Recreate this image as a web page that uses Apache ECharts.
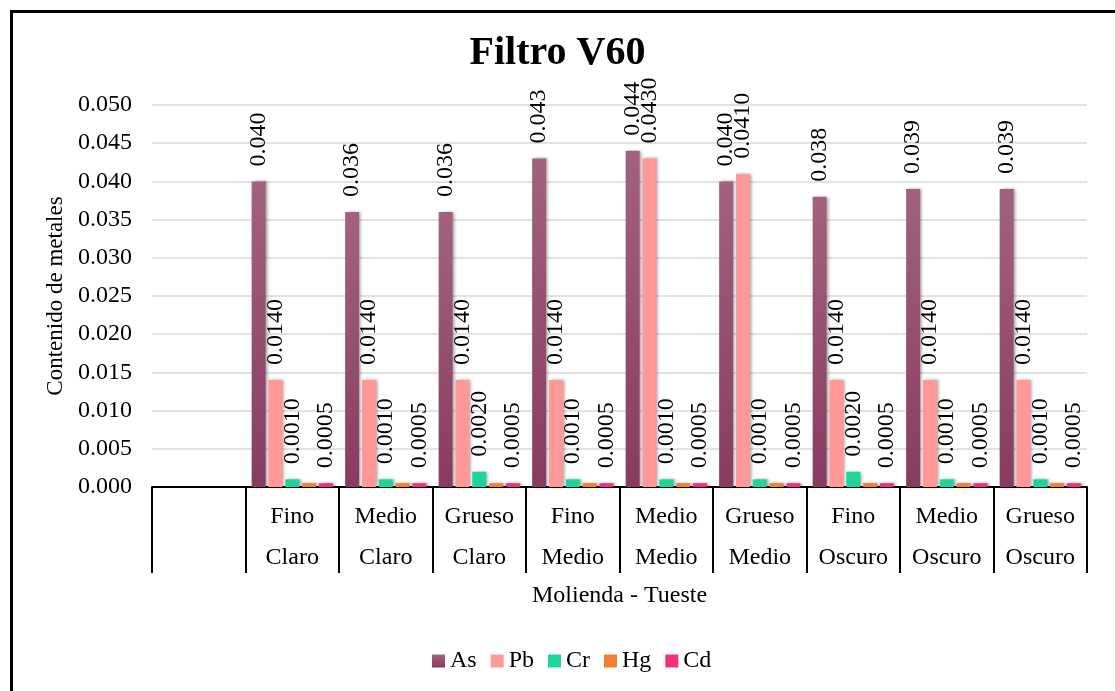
<!DOCTYPE html>
<html>
<head>
<meta charset="utf-8">
<script src="https://cdn.jsdelivr.net/npm/echarts@6/dist/echarts.min.js"></script>
<style>
  html, body { margin: 0; padding: 0; background: #fff; }
  #chart { width: 1115px; height: 691px; }
</style>
</head>
<body>
<div id="chart"></div>
<script>
// Molienda (grind) and tueste (roast) for each category; the first slot is empty
const grind = ['', 'Fino', 'Medio', 'Grueso', 'Fino', 'Medio', 'Grueso', 'Fino', 'Medio', 'Grueso'];
const roast = ['', 'Claro', 'Claro', 'Claro', 'Medio', 'Medio', 'Medio', 'Oscuro', 'Oscuro', 'Oscuro'];

// Metal content per category
const asValues = [null, 0.040, 0.036, 0.036, 0.043, 0.044, 0.040, 0.038, 0.039, 0.039];
const pbValues = [null, 0.014, 0.014, 0.014, 0.014, 0.043, 0.041, 0.014, 0.014, 0.014];
const crValues = [null, 0.001, 0.001, 0.002, 0.001, 0.001, 0.001, 0.002, 0.001, 0.001];
const hgValues = [null, 0.0005, 0.0005, 0.0005, 0.0005, 0.0005, 0.0005, 0.0005, 0.0005, 0.0005];
const cdValues = [null, 0.0005, 0.0005, 0.0005, 0.0005, 0.0005, 0.0005, 0.0005, 0.0005, 0.0005];

const categories = grind.map((g, i) => g ? g + '\n' + roast[i] : '');

const FONT = '"Liberation Serif", "Times New Roman", serif';

function valueLabel(decimals, show) {
  return {
    show: show,
    position: 'top',
    rotate: 90,
    align: 'left',
    verticalAlign: 'middle',
    distance: 15,
    fontFamily: FONT,
    fontSize: 24,
    color: '#000',
    formatter: p => (p.value == null ? '' : Number(p.value).toFixed(decimals))
  };
}

function barSeries(name, data, color, decimals, showLabel) {
  return {
    name: name,
    type: 'bar',
    data: data,
    barWidth: 14,
    barGap: '20%',
    itemStyle: {
      color: color,
      shadowColor: 'rgba(0,0,0,0.35)',
      shadowBlur: 3,
      shadowOffsetX: 2,
      shadowOffsetY: 0
    },
    label: valueLabel(decimals, showLabel)
  };
}

const chart = echarts.init(document.getElementById('chart'), null, { renderer: 'canvas' });

chart.setOption({
  backgroundColor: '#fff',
  animation: false,
  title: {
    text: 'Filtro V60',
    left: 'center',
    top: 29,
    textStyle: { fontFamily: FONT, fontSize: 40, fontWeight: 'bold', color: '#000' }
  },
  legend: {
    bottom: 13,
    left: 427,
    itemWidth: 13,
    itemHeight: 13,
    itemGap: 14,
    icon: 'rect',
    textStyle: { fontFamily: FONT, fontSize: 24, color: '#000' },
    data: ['As', 'Pb', 'Cr', 'Hg', 'Cd']
  },
  grid: { left: 152, right: 28, top: 105, bottom: 204, containLabel: false },
  xAxis: {
    type: 'category',
    data: categories,
    name: 'Molienda - Tueste',
    nameLocation: 'middle',
    nameGap: 97,
    nameTextStyle: { fontFamily: FONT, fontSize: 24, color: '#000' },
    axisLine: { show: true, lineStyle: { color: '#000', width: 2 } },
    axisTick: { show: true, alignWithLabel: false, length: 86, lineStyle: { color: '#000', width: 2 } },
    axisLabel: {
      fontFamily: FONT,
      fontSize: 24,
      color: '#000',
      lineHeight: 41,
      margin: 9,
      interval: 0
    },
    splitLine: { show: false }
  },
  yAxis: {
    type: 'value',
    min: 0,
    max: 0.05,
    interval: 0.005,
    name: 'Contenido de metales',
    nameLocation: 'middle',
    nameGap: 84,
    nameRotate: 90,
    nameTextStyle: { fontFamily: FONT, fontSize: 23, color: '#000' },
    axisLine: { show: false },
    axisTick: { show: false },
    axisLabel: {
      fontFamily: FONT,
      fontSize: 24,
      color: '#000',
      margin: 20,
      formatter: v => v.toFixed(3)
    },
    splitLine: { show: true, lineStyle: { color: '#d9d9d9', width: 1.5 } }
  },
  graphic: [{
    type: 'rect',
    left: 9,
    top: 9,
    shape: { width: 1130, height: 710 },
    style: { fill: 'none', stroke: '#000', lineWidth: 3 },
    silent: true,
    z: 100
  }],
  series: [
    barSeries('As', asValues, new echarts.graphic.LinearGradient(0, 0, 0, 1, [
      { offset: 0, color: '#a2627f' },
      { offset: 1, color: '#883b61' }
    ]), 3, true),
    barSeries('Pb', pbValues, '#ff9896', 4, true),
    barSeries('Cr', crValues, '#1fd39b', 4, true),
    barSeries('Hg', hgValues, '#f28030', 4, false),
    barSeries('Cd', cdValues, '#f0307f', 4, true)
  ]
});
</script>
</body>
</html>
